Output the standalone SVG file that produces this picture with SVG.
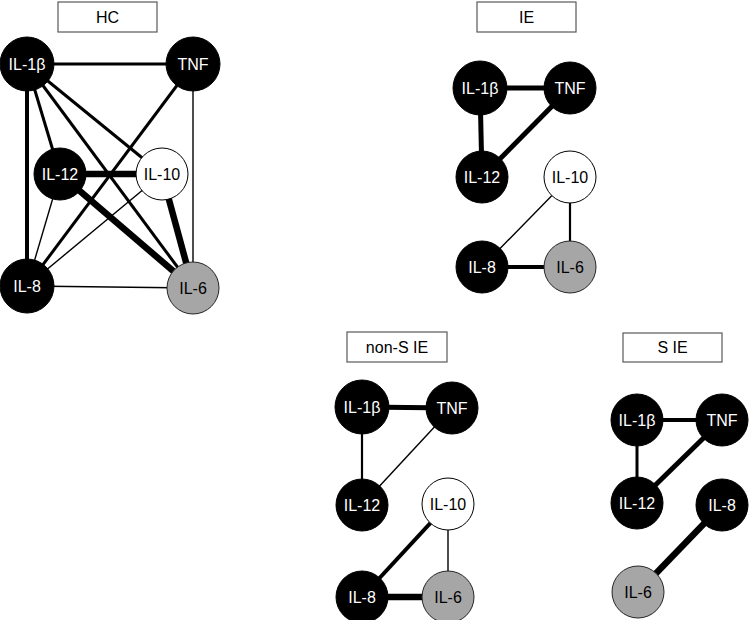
<svg xmlns="http://www.w3.org/2000/svg" width="752" height="620" viewBox="0 0 752 620">
<style>
.bg{fill:#fff}
.title rect{fill:#fff;stroke:#595959;stroke-width:1.2}
text{font-family:"Liberation Sans","Open Sans",Arial,sans-serif;font-size:16px;text-anchor:middle;dominant-baseline:central}
.title text{fill:#000}
.blk circle{fill:#000;stroke:#000;stroke-width:1}
.blk text{fill:#fff}
.wht circle{fill:#fff;stroke:#000;stroke-width:1}
.wht text{fill:#000}
.gry circle{fill:#a6a6a6;stroke:#262626;stroke-width:1}
.gry text{fill:#000}
.edges line{stroke:#000;stroke-linecap:butt}
.w1{stroke-width:1.4}
.w2{stroke-width:2.2}
.w3{stroke-width:3}
.w4{stroke-width:4}
.w5{stroke-width:5}
.w6{stroke-width:6.5}
</style>
<rect class="bg" x="0" y="0" width="752" height="620"/>

<g id="titles">
<g id="title-hc" class="title"><rect x="58" y="2" width="99" height="30"/><text x="107.5" y="17">HC</text></g>
<g id="title-ie" class="title"><rect x="477" y="2" width="99" height="30"/><text x="526.5" y="17">IE</text></g>
<g id="title-nonsie" class="title"><rect x="347" y="332" width="100" height="30"/><text x="397" y="347">non-S IE</text></g>
<g id="title-sie" class="title"><rect x="623" y="333" width="99" height="29"/><text x="672.5" y="347.5">S IE</text></g>
</g>

<g id="connectors" class="edges">
<!-- HC -->
<line class="w3" x1="27" y1="64" x2="193" y2="64"/>
<line class="w4" x1="27" y1="64" x2="27" y2="286"/>
<line class="w3" x1="27" y1="64" x2="60" y2="174"/>
<line class="w3" x1="27" y1="64" x2="162" y2="174"/>
<line class="w3" x1="27" y1="64" x2="193" y2="288"/>
<line class="w1" x1="193" y1="64" x2="193" y2="288"/>
<line class="w3" x1="193" y1="64" x2="27" y2="286"/>
<line class="w6" x1="60" y1="174" x2="162" y2="174"/>
<line class="w6" x1="60" y1="174" x2="193" y2="288"/>
<line class="w1" x1="60" y1="174" x2="27" y2="286"/>
<line class="w1" x1="162" y1="174" x2="27" y2="286"/>
<line class="w6" x1="162" y1="174" x2="193" y2="288"/>
<line class="w1" x1="27" y1="286" x2="193" y2="288"/>
<!-- IE -->
<line class="w5" x1="480" y1="88" x2="570" y2="88"/>
<line class="w5" x1="480" y1="88" x2="482" y2="177"/>
<line class="w5" x1="570" y1="88" x2="482" y2="177"/>
<line class="w1" x1="570" y1="177" x2="482" y2="267"/>
<line class="w2" x1="570" y1="177" x2="570" y2="267"/>
<line class="w4" x1="482" y1="267" x2="570" y2="267"/>
<!-- non-S IE -->
<line class="w5" x1="362" y1="407" x2="452" y2="408"/>
<line class="w2" x1="362" y1="407" x2="362" y2="505"/>
<line class="w1" x1="452" y1="408" x2="362" y2="505"/>
<line class="w4" x1="448" y1="504" x2="362" y2="597"/>
<line class="w1" x1="448" y1="504" x2="448" y2="597"/>
<line class="w6" x1="362" y1="597" x2="448" y2="597"/>
<!-- S IE -->
<line class="w4" x1="637" y1="420" x2="722" y2="420"/>
<line class="w3" x1="637" y1="420" x2="637" y2="503"/>
<line class="w5" x1="722" y1="420" x2="637" y2="503"/>
<line class="w6" x1="722" y1="505" x2="638" y2="592"/>
</g>

<g id="nodes">
<!-- HC -->
<g id="hc-il1b" class="blk"><circle cx="27" cy="64" r="27"/><text x="27" y="64">IL-1β</text></g>
<g id="hc-tnf" class="blk"><circle cx="193" cy="64" r="27"/><text x="193" y="64">TNF</text></g>
<g id="hc-il12" class="blk"><circle cx="60" cy="174" r="26"/><text x="60" y="174">IL-12</text></g>
<g id="hc-il10" class="wht"><circle cx="162" cy="174" r="26"/><text x="162" y="174">IL-10</text></g>
<g id="hc-il8" class="blk"><circle cx="27" cy="286" r="27"/><text x="27" y="286">IL-8</text></g>
<g id="hc-il6" class="gry"><circle cx="193" cy="288" r="26"/><text x="193" y="288">IL-6</text></g>
<!-- IE -->
<g id="ie-il1b" class="blk"><circle cx="480" cy="88" r="27"/><text x="480" y="88">IL-1β</text></g>
<g id="ie-tnf" class="blk"><circle cx="570" cy="88" r="26"/><text x="570" y="88">TNF</text></g>
<g id="ie-il12" class="blk"><circle cx="482" cy="177" r="26"/><text x="482" y="177">IL-12</text></g>
<g id="ie-il10" class="wht"><circle cx="570" cy="177" r="26"/><text x="570" y="177">IL-10</text></g>
<g id="ie-il8" class="blk"><circle cx="482" cy="267" r="26"/><text x="482" y="267">IL-8</text></g>
<g id="ie-il6" class="gry"><circle cx="570" cy="267" r="26"/><text x="570" y="267">IL-6</text></g>
<!-- non-S IE -->
<g id="nsie-il1b" class="blk"><circle cx="362" cy="407" r="27"/><text x="362" y="407">IL-1β</text></g>
<g id="nsie-tnf" class="blk"><circle cx="452" cy="408" r="26"/><text x="452" y="408">TNF</text></g>
<g id="nsie-il12" class="blk"><circle cx="362" cy="505" r="26"/><text x="362" y="505">IL-12</text></g>
<g id="nsie-il10" class="wht"><circle cx="448" cy="504" r="26"/><text x="448" y="504">IL-10</text></g>
<g id="nsie-il8" class="blk"><circle cx="362" cy="597" r="26"/><text x="362" y="597">IL-8</text></g>
<g id="nsie-il6" class="gry"><circle cx="448" cy="597" r="26"/><text x="448" y="597">IL-6</text></g>
<!-- S IE -->
<g id="sie-il1b" class="blk"><circle cx="637" cy="420" r="26"/><text x="637" y="420">IL-1β</text></g>
<g id="sie-tnf" class="blk"><circle cx="722" cy="420" r="26"/><text x="722" y="420">TNF</text></g>
<g id="sie-il12" class="blk"><circle cx="637" cy="503" r="26"/><text x="637" y="503">IL-12</text></g>
<g id="sie-il8" class="blk"><circle cx="722" cy="505" r="26"/><text x="722" y="505">IL-8</text></g>
<g id="sie-il6" class="gry"><circle cx="638" cy="592" r="26"/><text x="638" y="592">IL-6</text></g>
</g>
</svg>
